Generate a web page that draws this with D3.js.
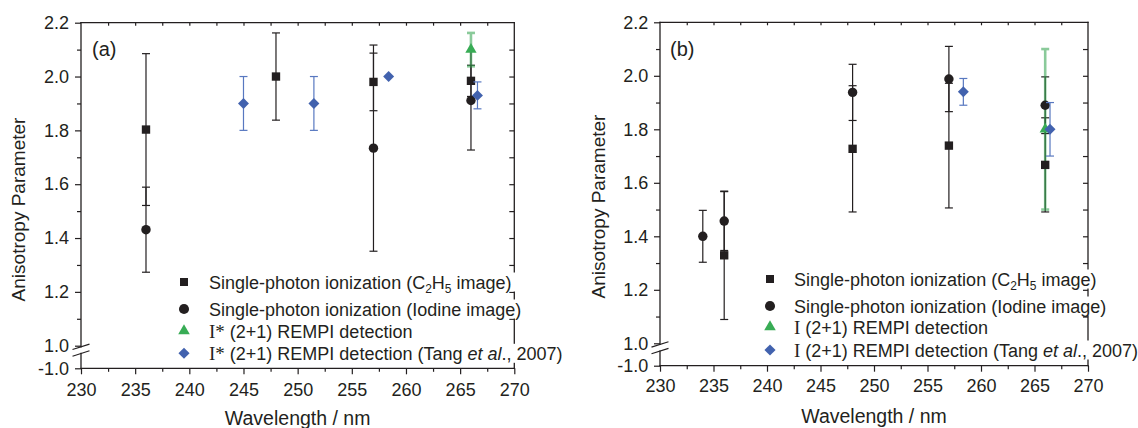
<!DOCTYPE html>
<html><head><meta charset="utf-8">
<script src="https://cdn.jsdelivr.net/npm/d3@7"></script>
<style>html,body{margin:0;padding:0;background:#fff;}svg{display:block;}</style>
</head><body>
<svg id="chart" width="1138" height="428"></svg>
<script>
// ---------- DATA ----------
// Panel (a)
const sqA_x = [236, 248, 257, 266];
const sqA_y = [1.803, 2.000, 1.980, 1.984];
const sqA_e = [0.282, 0.162, 0.107, 0.058];
const ciA_x = [236, 257, 266];
const ciA_y = [1.431, 1.734, 1.911];
const ciA_e = [0.158, 0.383, 0.184];
const trA_x = [266];
const trA_y = [2.100];
const trA_e = [0.062];
const diA_x = [245, 251.5, 258.4, 266.6];
const diA_y = [1.900, 1.900, 2.000, 1.930];
const diA_e = [0.100, 0.100, 0, 0.050];
// Panel (b)
const sqB_x = [236, 248, 257, 266];
const sqB_y = [1.329, 1.727, 1.739, 1.667];
const sqB_e = [0.240, 0.236, 0.233, 0.176];
const ciB_x = [234, 236, 248, 257, 266];
const ciB_y = [1.400, 1.457, 1.938, 1.988, 1.890];
const ciB_e = [0.097, 0.110, 0.105, 0.122, 0.106];
const trB_x = [266];
const trB_y = [1.800];
const trB_e = [0.300];
const diB_x = [258.35, 266.45];
const diB_y = [1.940, 1.800];
const diB_e = [0.050, 0.100];
// Ticks
const xMajorTicks = [230, 235, 240, 245, 250, 255, 260, 265, 270];
const xMinorTicks = [232.5, 237.5, 242.5, 247.5, 252.5, 257.5, 262.5, 267.5];
const yMajorTicks = [-1.0, 1.0, 1.2, 1.4, 1.6, 1.8, 2.0, 2.2];
const yMinorTicks = [1.1, 1.3, 1.5, 1.7, 1.9, 2.1];
const yRightTicks = [1.1, 1.2, 1.3, 1.4, 1.5, 1.6, 1.7, 1.8, 1.9, 2.0, 2.1];
const xDomain = [230, 270];
const yDomain = [-1.0, 1.0, 2.2];
const xTitle = "Wavelength / nm";
const yTitle = "Anisotropy Parameter";

// ---------- STYLE ----------
const FONT = "'Liberation Sans', Arial, Helvetica, sans-serif";
const SERIF = "'Liberation Serif', 'Times New Roman', serif";
const INK = "#231f20";
const BLUE = "#4262ae";
const BLUE_BAR = "#5878c0";
const GREEN = "#38ac55";
const GREEN_BAR = "#2ca048";

const svg = d3.select("#chart");

function drawPanel(p) {
  const g = svg.append("g");
  const x = d3.scaleLinear().domain(xDomain).range([p.x0, p.x1]);
  const y = d3.scaleLinear().domain(yDomain).range([p.yBot, p.yBreak, p.yTop]);

  // --- axes ticks ---
  const fmt = d => d.toFixed(1);
  const axL = g.append("g").attr("transform", `translate(${p.x0},0)`)
    .call(d3.axisLeft(y).tickValues(yMajorTicks).tickFormat(fmt).tickSize(6).tickPadding(p.yPad));
  const axLm = g.append("g").attr("transform", `translate(${p.x0},0)`)
    .call(d3.axisLeft(y).tickValues(yMinorTicks).tickFormat("").tickSize(4));
  const axB = g.append("g").attr("transform", `translate(0,${p.yBot})`)
    .call(d3.axisBottom(x).tickValues(xMajorTicks).tickFormat(d3.format("d")).tickSize(6).tickPadding(p.xPad));
  const axBm = g.append("g").attr("transform", `translate(0,${p.yBot})`)
    .call(d3.axisBottom(x).tickValues(xMinorTicks).tickFormat("").tickSize(3.5));
  const axT = g.append("g").attr("transform", `translate(0,${p.yTop})`)
    .call(d3.axisTop(x).tickValues(xMinorTicks.concat(xMajorTicks.slice(1, -1))).tickFormat("").tickSize(-3));
  const axR = g.append("g").attr("transform", `translate(${p.x1},0)`)
    .call(d3.axisRight(y).tickValues(yRightTicks).tickFormat("").tickSize(-5));
  [axL, axLm, axB, axBm, axT, axR].forEach(a => {
    a.select(".domain").remove();
    a.selectAll("line").attr("stroke", INK).attr("stroke-width", 1.2);
    a.selectAll("text").attr("fill", INK).style("font-family", FONT).style("font-size", "18px");
  });

  // --- axis lines ---
  const b1 = p.yBreak + 1.1, b2 = p.yBreak + 7.8;
  const lines = [
    [p.x0, p.yTop, p.x1, p.yTop],
    [p.x1, p.yTop, p.x1, p.yBot],
    [p.x0, p.yBot, p.x1, p.yBot],
    [p.x0, p.yTop, p.x0, b1],
    [p.x0, b2, p.x0, p.yBot],
  ];
  g.append("g").selectAll("line").data(lines).join("line")
    .attr("x1", d => d[0]).attr("y1", d => d[1]).attr("x2", d => d[2]).attr("y2", d => d[3])
    .attr("stroke", INK).attr("stroke-width", 1.3).attr("stroke-linecap", "square");
  // break slashes
  g.append("g").selectAll("line").data([b1, b2]).join("line")
    .attr("x1", p.x0 - 8.5).attr("y1", d => d + 2.7).attr("x2", p.x0 + 8.5).attr("y2", d => d - 2.7)
    .attr("stroke", INK).attr("stroke-width", 1.2);

  // --- titles ---
  g.append("text").attr("x", (p.x0 + p.x1) / 2).attr("y", p.xTitleY).attr("text-anchor", "middle")
    .style("font-family", FONT).style("font-size", "19.5px").attr("fill", INK).text(xTitle);
  g.append("text").attr("transform", `translate(${p.yTitleX},${p.yTitleY}) rotate(-90)`).attr("text-anchor", "middle")
    .style("font-family", FONT).style("font-size", "19px").attr("fill", INK).text(yTitle);
  g.append("text").attr("x", p.labelX).attr("y", p.labelY)
    .style("font-family", FONT).style("font-size", "20px").attr("fill", INK).text(p.label);

  // --- error bars ---
  function bars(xs, ys, es, color, width, opacity) {
    const d = xs.map((v, i) => ({ x: v, y: ys[i], e: es[i] })).filter(d => d.e > 0);
    const eg = g.append("g").attr("stroke", color).attr("stroke-width", width).attr("opacity", opacity);
    eg.selectAll(".v").data(d).join("line")
      .attr("x1", d => x(d.x)).attr("x2", d => x(d.x)).attr("y1", d => y(d.y + d.e)).attr("y2", d => y(d.y - d.e));
    eg.selectAll(".c1").data(d).join("line")
      .attr("x1", d => x(d.x) - 4).attr("x2", d => x(d.x) + 4).attr("y1", d => y(d.y + d.e)).attr("y2", d => y(d.y + d.e));
    eg.selectAll(".c2").data(d).join("line")
      .attr("x1", d => x(d.x) - 4).attr("x2", d => x(d.x) + 4).attr("y1", d => y(d.y - d.e)).attr("y2", d => y(d.y - d.e));
  }
  function marks(xs, ys, type, size, color, rot) {
    g.append("g").selectAll("path").data(xs.map((v, i) => ({ x: v, y: ys[i] }))).join("path")
      .attr("d", d3.symbol().type(type).size(size))
      .attr("transform", d => `translate(${x(d.x)},${y(d.y)})` + (rot ? " rotate(45)" : ""))
      .attr("fill", color);
  }
  bars(p.sq[0], p.sq[1], p.sq[2], INK, 1.2, 1);
  bars(p.ci[0], p.ci[1], p.ci[2], INK, 1.2, 1);
  bars(p.tr[0], p.tr[1], p.tr[2], GREEN_BAR, 2.6, 0.55);
  marks(p.sq[0], p.sq[1], d3.symbolSquare, 70, INK);
  marks(p.ci[0], p.ci[1], d3.symbolCircle, 70, INK);
  marks(p.tr[0], p.tr[1], d3.symbolTriangle, 55, GREEN);
  bars(p.di[0], p.di[1], p.di[2], BLUE_BAR, 1.2, 1);
  marks(p.di[0], p.di[1], d3.symbolSquare, 60, BLUE, true);

  // --- legend ---
  const lg = g.append("g");
  const rows = [
    { sym: d3.symbolSquare, size: 64, color: INK, parts: [["Single-photon ionization (C"], ["2", "sub"], ["H"], ["5", "sub"], [" image)"]] },
    { sym: d3.symbolCircle, size: 80, color: INK, parts: [["Single-photon ionization (Iodine image)"]] },
    { sym: d3.symbolTriangle, size: 58, color: GREEN, parts: [[p.iLabel, "serif"], [" (2+1) REMPI detection"]] },
    { sym: d3.symbolSquare, size: 62, color: BLUE, rot: true, parts: [[p.iLabel, "serif"], [" (2+1) REMPI detection (Tang "], ["et al", "it"], ["., 2007)"]] },
  ];
  rows.forEach((r, i) => {
    const cy = p.legendRows[i];
    const rg = lg.append("g");
    const bg = rg.append("rect").attr("fill", "#fff");
    const t = rg.append("text").attr("x", p.legTextX).attr("y", cy + 6.5)
      .style("font-family", FONT).style("font-size", "18px").attr("fill", INK);
    r.parts.forEach(pt => {
      const ts = t.append("tspan").text(pt[0]);
      if (pt[1] === "sub") ts.style("font-size", "12px").attr("dy", 4);
      if (pt[1] === "serif") ts.style("font-family", SERIF).style("font-size", "19px");
      if (pt[1] === "it") ts.style("font-style", "italic");
    });
    // reset baseline after subscripts
    t.selectAll("tspan").each(function (d, j) {
      const prev = r.parts[j - 1];
      if (prev && prev[1] === "sub") d3.select(this).attr("dy", -4);
    });
    const bb = t.node().getBBox();
    bg.attr("x", bb.x - 2).attr("y", cy - 9.5).attr("width", bb.width + 7).attr("height", 19);
    rg.append("path").attr("d", d3.symbol().type(r.sym).size(r.size)())
      .attr("transform", `translate(${p.legMarkX},${cy})` + (r.rot ? " rotate(45)" : ""))
      .attr("fill", r.color);
  });
}

drawPanel({
  x0: 81, x1: 514.3, yTop: 22.7, yBreak: 345.7, yBot: 368.3,
  yPad: 6, xPad: 9, xTitleY: 425, yTitleX: 25.3, yTitleY: 209.5,
  label: "(a)", labelX: 92, labelY: 56,
  legMarkX: 184, legTextX: 209, legendRows: [282, 309, 331, 353.3], iLabel: "I*",
  sq: [sqA_x, sqA_y, sqA_e], ci: [ciA_x, ciA_y, ciA_e], tr: [trA_x, trA_y, trA_e], di: [diA_x, diA_y, diA_e]
});
drawPanel({
  x0: 660, x1: 1088, yTop: 22.3, yBreak: 343.3, yBot: 365.7,
  yPad: 5.7, xPad: 8, xTitleY: 422.5, yTitleX: 605, yTitleY: 206.5,
  label: "(b)", labelX: 670, labelY: 56,
  legMarkX: 770, legTextX: 794, legendRows: [279, 306, 327, 350], iLabel: "I",
  sq: [sqB_x, sqB_y, sqB_e], ci: [ciB_x, ciB_y, ciB_e], tr: [trB_x, trB_y, trB_e], di: [diB_x, diB_y, diB_e]
});
</script>
</body></html>
